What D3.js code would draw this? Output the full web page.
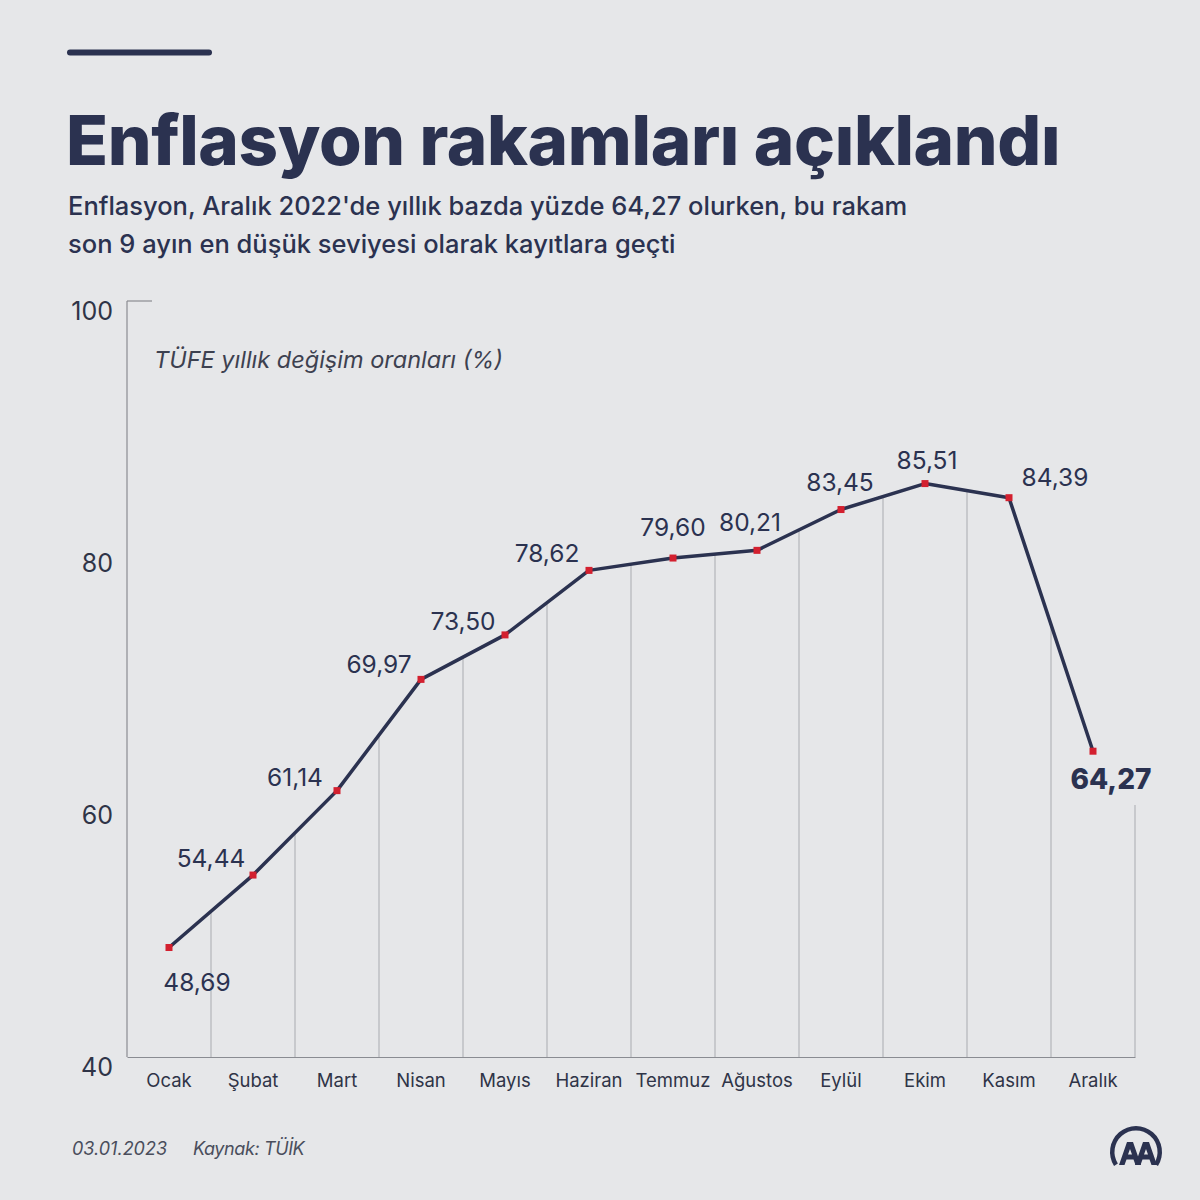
<!DOCTYPE html>
<html><head><meta charset="utf-8">
<script src="https://cdnjs.cloudflare.com/ajax/libs/d3/7.8.5/d3.min.js"></script>
<style>
html,body{margin:0;padding:0;background:#e6e7e9;}
svg{display:block;font-family:Inter,"Noto Sans",sans-serif;}
</style></head><body>
<script>
const months = ["Ocak","Şubat","Mart","Nisan","Mayıs","Haziran","Temmuz","Ağustos","Eylül","Ekim","Kasım","Aralık"];
const values = [48.69,54.44,61.14,69.97,73.50,78.62,79.60,80.21,83.45,85.51,84.39,64.27];
const valueLabels = ["48,69","54,44","61,14","69,97","73,50","78,62","79,60","80,21","83,45","85,51","84,39","64,27"];
const yTicks = [40,60,80,100];
// label placement offsets (dx, dy relative to point)
const labelOffsets = [[28,37],[-42,-15],[-42,-11],[-42,-13],[-42,-12],[-42,-15],[0,-29],[-7,-26],[-1,-25],[2,-21],[46,-18],[18,30]];

const W=1200,H=1200;
const navy="#2b3250", red="#d3202f";
const svg=d3.select("body").append("svg").attr("width",W).attr("height",H);
svg.append("rect").attr("width",W).attr("height",H).attr("fill","#e6e7e9");

// top bar
svg.append("line").attr("x1",70).attr("x2",209).attr("y1",52.5).attr("y2",52.5)
  .attr("stroke",navy).attr("stroke-width",6).attr("stroke-linecap","round");

svg.append("text").attr("x",66).attr("y",165).attr("font-size",69).attr("font-weight",800)
  .attr("fill",navy).attr("letter-spacing",-0.35).text("Enflasyon rakamları açıklandı");
const sub=["Enflasyon, Aralık 2022'de yıllık bazda yüzde 64,27 olurken, bu rakam","son 9 ayın en düşük seviyesi olarak kayıtlara geçti"];
sub.forEach((s,i)=>svg.append("text").attr("x",68).attr("y",215+i*38).attr("font-size",25.5)
  .attr("font-weight",500).attr("fill",navy).attr("letter-spacing",0).text(s));

const x=d3.scaleBand().domain(months).range([127,1135]).padding(0);
const y=d3.scaleLinear().domain([40,100]).range([1057,301]);
const cx=m=>x(m)+x.bandwidth()/2;

// vertical gridlines at band boundaries up to the line
months.forEach((m,i)=>{
  const bx=x(m)+x.bandwidth();
  let top;
  if(i<months.length-1) top=(y(values[i])+y(values[i+1]))/2; else top=y(60);
  svg.append("line").attr("x1",bx).attr("x2",bx).attr("y1",y(40)).attr("y2",top)
    .attr("stroke","#a9abb0").attr("stroke-width",1);
});

// axes
const gY=svg.append("g").attr("transform","translate(127,0)")
  .call(d3.axisLeft(y).tickValues(yTicks).tickSize(0).tickPadding(15));
gY.select(".domain").remove();
gY.append("line").attr("x1",0).attr("x2",0).attr("y1",y(100)).attr("y2",y(40)).attr("stroke","#8a8c92").attr("stroke-width",1.2);
gY.append("line").attr("x1",0).attr("x2",25).attr("y1",y(100)).attr("y2",y(100)).attr("stroke","#8a8c92").attr("stroke-width",1.2);
gY.selectAll(".tick text").attr("font-size",25).attr("fill","#2f3447").attr("font-family","Inter").attr("dy","0.72em").attr("x",-14);

const gX=svg.append("g").attr("transform","translate(0,1057)")
  .call(d3.axisBottom(x).tickSize(0).tickPadding(17));
gX.select(".domain").attr("stroke","#8a8c92").attr("stroke-width",1.2);
gX.selectAll(".tick text").attr("font-size",18.5).attr("fill","#2f3447").attr("font-family","Inter");

// chart subtitle
svg.append("text").attr("x",154).attr("y",368).attr("font-size",23.5).attr("font-style","italic")
  .attr("fill","#3d4150").text("TÜFE yıllık değişim oranları (%)");

// line
const line=d3.line().x((d,i)=>cx(months[i])).y(d=>y(d));
svg.append("path").datum(values).attr("d",line).attr("fill","none").attr("stroke",navy).attr("stroke-width",3.5).attr("stroke-linejoin","round");

// markers
svg.selectAll("rect.mk").data(values).enter().append("rect").attr("class","mk")
  .attr("x",(d,i)=>cx(months[i])-3.5).attr("y",d=>y(d)-3.5).attr("width",7).attr("height",7).attr("fill",red);

// labels
svg.selectAll("text.vl").data(values).enter().append("text").attr("class","vl")
  .attr("x",(d,i)=>cx(months[i])+labelOffsets[i][0])
  .attr("y",(d,i)=>y(d)+labelOffsets[i][1])
  .attr("text-anchor","middle").attr("dominant-baseline","middle")
  .attr("font-size",(d,i)=>i===11?28:24.5).attr("font-weight",(d,i)=>i===11?800:400)
  .attr("fill",navy).text((d,i)=>valueLabels[i]);

// footer
svg.append("text").attr("x",72).attr("y",1155).attr("font-size",18).attr("font-style","italic").attr("fill","#4a4e5c").text("03.01.2023");
svg.append("text").attr("x",193).attr("y",1155).attr("font-size",18).attr("font-style","italic").attr("fill","#4a4e5c").attr("letter-spacing",-0.4).text("Kaynak: TÜİK");

// AA logo
const lg=svg.append("g").attr("transform","translate(1136,1152)");
lg.append("path").attr("d",d3.arc().innerRadius(21.5).outerRadius(26).startAngle(-Math.PI*0.68).endAngle(Math.PI*0.68)())
  .attr("fill",navy);
const A=(ox)=>`M${ox-11},13 L${ox-3},-10 L${ox+3},-10 L${ox+11},13 L${ox+5.5},13 L${ox+3.5},7.5 L${ox-3.5},7.5 L${ox-5.5},13 Z M${ox-2},2.5 L${ox+2},2.5 L${ox},-3 Z`;
lg.append("path").attr("d",A(-6)).attr("fill",navy).attr("fill-rule","evenodd");
lg.append("path").attr("d",A(10)).attr("fill",navy).attr("fill-rule","evenodd");
</script>
</body></html>
